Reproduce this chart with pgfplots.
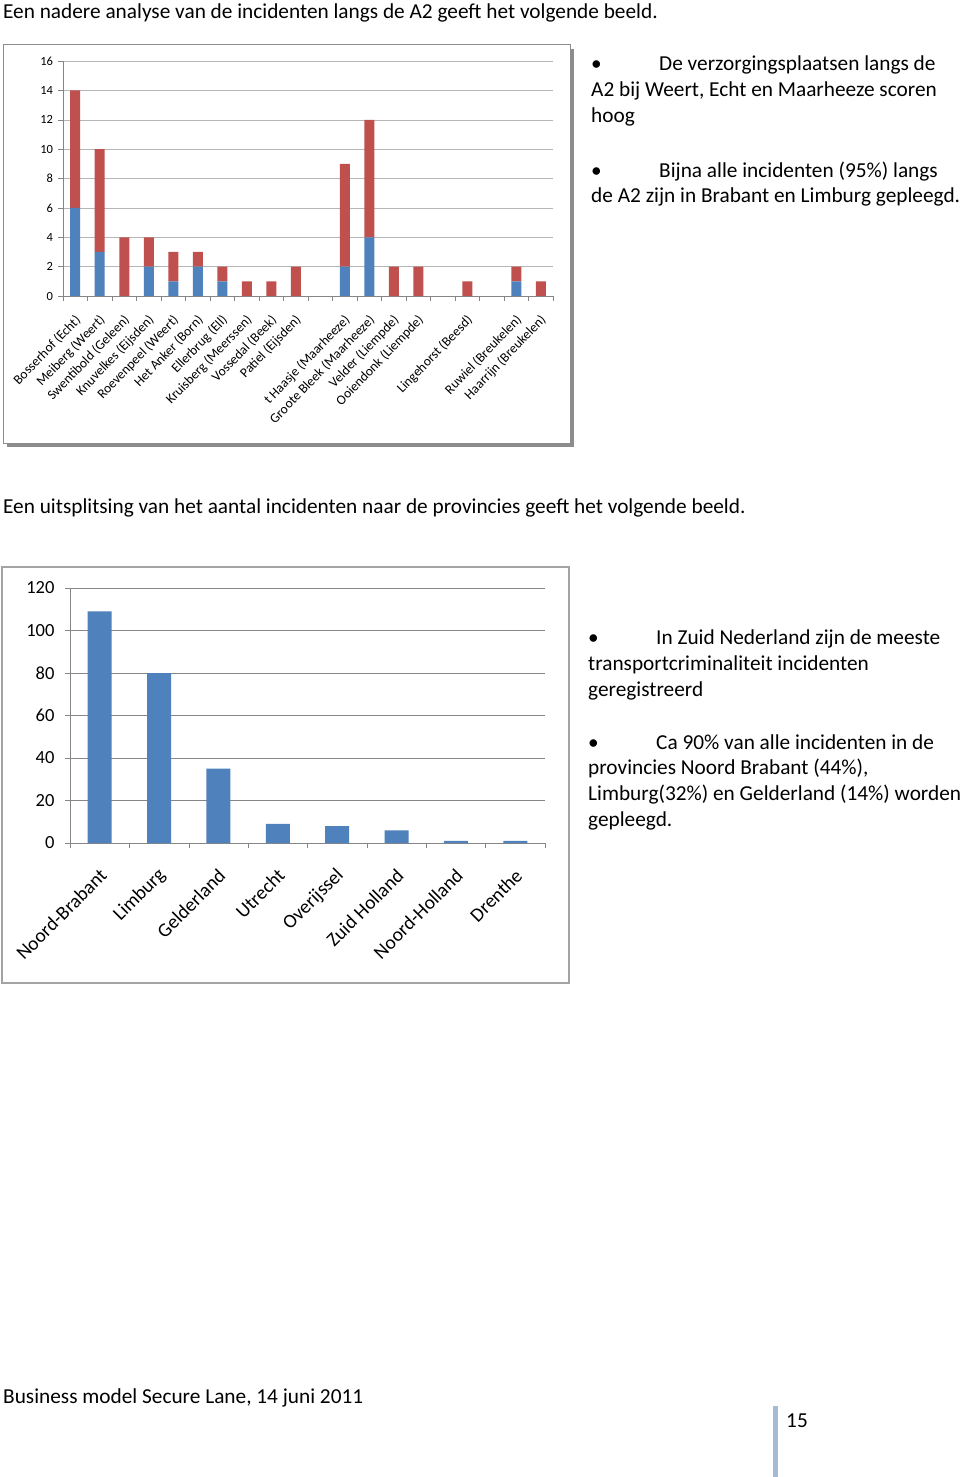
\documentclass[border=0pt]{standalone}
\usepackage{fontspec}
\setmainfont{Carlito}
\usepackage{pgfplots}
\pgfplotsset{compat=1.18}
\definecolor{xlblue}{HTML}{4F81BD}
\definecolor{xlred}{HTML}{C0504D}
\definecolor{gridgray}{HTML}{868686}
\definecolor{framegray}{HTML}{8C8C8C}
\definecolor{footblue}{RGB}{165,186,214}
\newcommand{\bodyfont}{\fontsize{21.3}{25}\selectfont}
\begin{document}
\begin{tikzpicture}
\useasboundingbox (0,0) rectangle (960pt,-1477pt);
\fill[white] (0,0) rectangle (960pt,-1477pt);
% ---------- texts ----------
\node[anchor=base west, inner sep=0] at (3pt,-19pt) {\bodyfont Een nadere analyse van de incidenten langs de A2 geeft het volgende beeld.};
\node[anchor=base west, inner sep=0] at (591pt,-71pt) {\bodyfont •};
\node[anchor=base west, inner sep=0] at (659pt,-71pt) {\bodyfont De verzorgingsplaatsen langs de};
\node[anchor=base west, inner sep=0] at (591pt,-97pt) {\bodyfont A2 bij Weert, Echt en Maarheeze scoren};
\node[anchor=base west, inner sep=0] at (591pt,-123pt) {\bodyfont hoog};
\node[anchor=base west, inner sep=0] at (591pt,-177pt) {\bodyfont •};
\node[anchor=base west, inner sep=0] at (659pt,-177pt) {\bodyfont Bijna alle incidenten (95\%) langs};
\node[anchor=base west, inner sep=0] at (591pt,-202pt) {\bodyfont de A2 zijn in Brabant en Limburg gepleegd.};
\node[anchor=base west, inner sep=0] at (3pt,-513pt) {\bodyfont Een uitsplitsing van het aantal incidenten naar de provincies geeft het volgende beeld.};
\node[anchor=base west, inner sep=0] at (588pt,-644pt) {\bodyfont •};
\node[anchor=base west, inner sep=0] at (656pt,-644pt) {\bodyfont In Zuid Nederland zijn de meeste};
\node[anchor=base west, inner sep=0] at (588pt,-670pt) {\bodyfont transportcriminaliteit incidenten};
\node[anchor=base west, inner sep=0] at (588pt,-696pt) {\bodyfont geregistreerd};
\node[anchor=base west, inner sep=0] at (588pt,-749pt) {\bodyfont •};
\node[anchor=base west, inner sep=0] at (656pt,-749pt) {\bodyfont Ca 90\% van alle incidenten in de};
\node[anchor=base west, inner sep=0] at (588pt,-774pt) {\bodyfont provincies Noord Brabant (44\%),};
\node[anchor=base west, inner sep=0] at (588pt,-800pt) {\bodyfont Limburg(32\%) en Gelderland (14\%) worden};
\node[anchor=base west, inner sep=0] at (588pt,-826pt) {\bodyfont gepleegd.};
\node[anchor=base west, inner sep=0] at (3pt,-1403pt) {\bodyfont Business model Secure Lane, 14 juni 2011};
\node[anchor=base west, inner sep=0] at (786pt,-1427pt) {\bodyfont 15};
\fill[footblue] (773pt,-1406pt) rectangle (778pt,-1477pt);
% ---------- frames ----------
\fill[framegray] (7pt,-49pt) rectangle (574pt,-447pt);
\filldraw[fill=white, draw=framegray, line width=1pt] (3pt,-45pt) rectangle (570pt,-443pt);
\draw[draw=framegray!80, line width=1.5pt] (2pt,-567pt) rectangle (569pt,-983pt);
% ---------- chart 1 ----------
\begin{axis}[
  at={(63pt,-296pt)}, anchor=south west,
  scale only axis, width=490pt, height=235pt,
  ybar stacked, bar width=10pt,
  xmin=0.5, xmax=20.5, ymin=0, ymax=16,
  ytick={0,2,...,16},
  xtick={1,...,20},
  xticklabels={Bosserhof (Echt), Meiberg (Weert), Swentibold (Geleen), Knuvelkes (Eijsden), Roevenpeel (Weert), Het Anker (Born), Ellerbrug (Ell), Kruisberg (Meerssen), Vossedal (Beek), Patiel (Eijsden), {}, t Haasje (Maarheeze), Groote Bleek (Maarheeze), Velder (Liempde), Ooiendonk (Liempde), {}, Lingehorst (Beesd), {}, Ruwiel (Breukelen), Haarrijn (Breukelen)},
  minor xtick={0.5,1.5,...,20.5},
  axis x line*=bottom, axis y line*=left,
  axis line style={gridgray},
  ymajorgrids, grid style={gridgray!60},
  xmajorgrids=false, xminorgrids=false,
  major x tick style={draw=none},
  every tick/.style={gridgray},
  tick align=outside, major tick length=5pt, minor tick length=5pt,
  /pgf/number format/assume math mode=true,
  yticklabel style={font=\fontsize{12.5}{12.5}\selectfont, xshift=-1.5pt},
  xticklabel style={font=\fontsize{13.5}{14}\selectfont, rotate=46, anchor=east, inner sep=1pt, xshift=-9pt, yshift=-14pt},
]
\addplot[fill=xlblue, draw=none] coordinates {(1,6) (2,3) (3,0) (4,2) (5,1) (6,2) (7,1) (8,0) (9,0) (10,0) (11,0) (12,2) (13,4) (14,0) (15,0) (16,0) (17,0) (18,0) (19,1) (20,0)};
\addplot[fill=xlred, draw=none] coordinates {(1,8) (2,7) (3,4) (4,2) (5,2) (6,1) (7,1) (8,1) (9,1) (10,2) (11,0) (12,7) (13,8) (14,2) (15,2) (16,0) (17,1) (18,0) (19,1) (20,1)};
\end{axis}
% ---------- chart 2 ----------
\begin{axis}[
  at={(70pt,-843pt)}, anchor=south west,
  scale only axis, width=475pt, height=255pt,
  ybar, bar width=24pt,
  xmin=0.5, xmax=8.5, ymin=0, ymax=120,
  ytick={0,20,...,120},
  xtick={1,...,8},
  xticklabels={Noord-Brabant, Limburg, Gelderland, Utrecht, Overijssel, Zuid Holland, Noord-Holland, Drenthe},
  minor xtick={0.5,1.5,...,8.5},
  axis x line*=bottom, axis y line*=left,
  axis line style={gridgray},
  ymajorgrids, grid style={gridgray},
  major x tick style={draw=none},
  every tick/.style={gridgray},
  tick align=outside, major tick length=5pt, minor tick length=5pt,
  /pgf/number format/assume math mode=true,
  yticklabel style={font=\fontsize{18.5}{18.5}\selectfont, xshift=-7pt},
  xticklabel style={font=\fontsize{19.5}{20}\selectfont, rotate=45, anchor=east, inner sep=1pt, xshift=-13.6pt, yshift=-19.8pt},
]
\addplot[fill=xlblue, draw=none] coordinates {(1,109) (2,80) (3,35) (4,9) (5,8) (6,6) (7,1) (8,1)};
\end{axis}
\end{tikzpicture}
\end{document}
